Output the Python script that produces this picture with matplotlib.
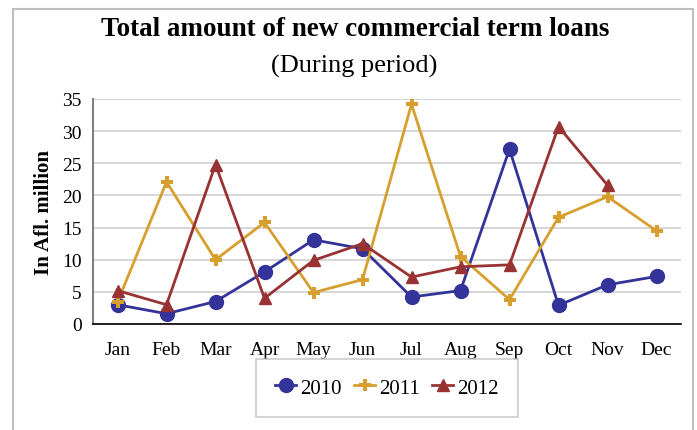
import matplotlib.pyplot as plt
from matplotlib.patches import Rectangle

months = ['Jan', 'Feb', 'Mar', 'Apr', 'May', 'Jun', 'Jul', 'Aug', 'Sep', 'Oct', 'Nov', 'Dec']
loans_2010 = [3.0, 1.6, 3.5, 8.1, 13.1, 11.7, 4.2, 5.2, 27.2, 2.9, 6.1, 7.4]
loans_2011 = [3.4, 22.1, 10.0, 15.8, 4.9, 6.9, 34.2, 10.5, 3.8, 16.6, 19.8, 14.5]
loans_2012 = [5.2, 3.0, 24.8, 4.0, 9.9, 12.5, 7.3, 8.9, 9.2, 30.7, 21.6]
yticks = [0, 5, 10, 15, 20, 25, 30, 35]

plt.rcParams['font.family'] = ['Liberation Serif', 'DejaVu Serif']

fig = plt.figure(figsize=(6.97, 4.31), dpi=100)
# outer chart border
fig.patches.append(Rectangle((12.5 / 697, -0.01), 680 / 697, (431 - 9.5) / 431 + 0.01,
                             transform=fig.transFigure, fill=False,
                             edgecolor='#bfbfbf', linewidth=1.5))

ax = fig.add_axes([93 / 697, (431 - 325) / 431, 588 / 697, 225 / 431])

x = list(range(len(months)))
ax.plot(x, loans_2010, '-o', color='#333399', lw=2, ms=10, label='2010', zorder=3)
ax.plot(x, loans_2011, '-P', color='#D69F2E', lw=2, ms=8, mew=0, label='2011', zorder=3)
ax.plot(x[:len(loans_2012)], loans_2012, '-^', color='#993333', lw=2, ms=8, label='2012', zorder=3)

ax.set_xlim(-0.5, 11.5)
ax.set_ylim(0, 35)
ax.set_yticks(yticks)
ax.set_xticks(x)
ax.set_xticklabels(months)
ax.tick_params(axis='both', labelsize=14, length=0)
ax.tick_params(axis='x', pad=12)
ax.tick_params(axis='y', pad=8)
ax.grid(axis='y', color='#d0d0d0', lw=1.2)
ax.set_axisbelow(True)
for s in ['top', 'right']:
    ax.spines[s].set_visible(False)
ax.spines['left'].set_color('#808080')
ax.spines['left'].set_linewidth(1.5)
ax.spines['bottom'].set_color('black')
ax.spines['bottom'].set_linewidth(1.2)
ax.set_ylabel('In Afl. million', fontsize=15, fontweight='bold', labelpad=6)

fig.text(355 / 697, 1 - 30 / 431, 'Total amount of new commercial term loans',
         ha='center', va='center', fontsize=19.5, fontweight='bold')
fig.text(354 / 697, 1 - 66 / 431, '(During period)', ha='center', va='center', fontsize=19)

leg = fig.legend(loc='center', bbox_to_anchor=(387 / 697, 1 - 389 / 431), ncol=3,
                 fontsize=15, frameon=True, fancybox=False, edgecolor='#bfbfbf',
                 handlelength=1.0, handletextpad=0.2, columnspacing=0.6,
                 borderpad=0.9, borderaxespad=0)
leg.get_frame().set_linewidth(1.2)

plt.savefig('out.png', dpi=100)
